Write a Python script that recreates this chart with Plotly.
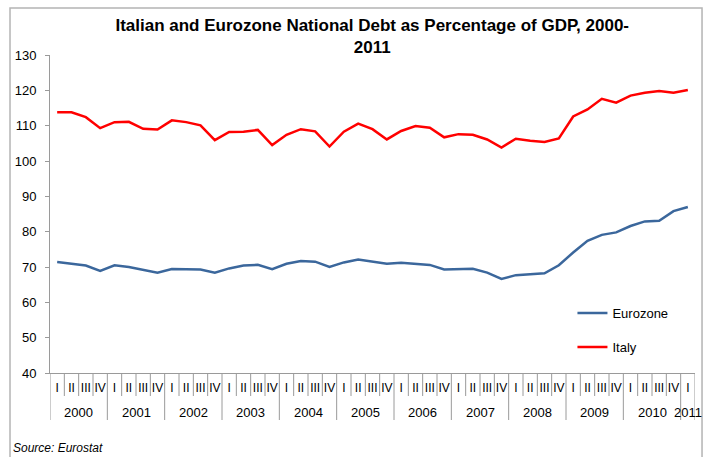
import plotly.graph_objects as go

# Quarterly government debt, % of GDP, 2000 Q1 - 2011 Q1
years = ["2000", "2001", "2002", "2003", "2004", "2005",
         "2006", "2007", "2008", "2009", "2010", "2011"]
quarters = ["I", "II", "III", "IV"]

eurozone = [71.4, 70.9, 70.4, 68.9, 70.5, 70.0, 69.2, 68.4, 69.4, 69.4, 69.3, 68.4,
            69.6, 70.4, 70.6, 69.4, 70.9, 71.7, 71.5, 70.0, 71.3, 72.1, 71.4, 70.9,
            71.2, 71.0, 70.6, 69.3, 69.5, 69.5, 68.4, 66.6, 67.7, 67.9, 68.2, 70.5,
            74.1, 77.4, 79.1, 79.8, 81.6, 82.9, 83.1, 85.8, 87.0]
italy = [113.8, 113.8, 112.4, 109.3, 111.0, 111.1, 109.1, 108.9, 111.5, 111.0, 110.1, 105.9,
         108.2, 108.3, 108.8, 104.5, 107.4, 109.0, 108.4, 104.1, 108.3, 110.6, 109.0, 106.1,
         108.5, 109.9, 109.4, 106.7, 107.6, 107.4, 106.1, 103.8, 106.3, 105.7, 105.4, 106.4,
         112.6, 114.6, 117.6, 116.5, 118.5, 119.3, 119.8, 119.3, 120.1]

y_ticks = [40, 50, 60, 70, 80, 90, 100, 110, 120, 130]

n = len(italy)
idx = list(range(n))
q_labels = [quarters[i % 4] for i in idx]

FONT = "Liberation Sans, Arial, sans-serif"
AXIS_GREY = "#9a9a9a"

fig = go.Figure()
fig.add_trace(go.Scatter(x=idx, y=eurozone, mode="lines", name="Eurozone",
                         legendgroup="ez",
                         line=dict(color="#3b679c", width=2.5)))
fig.add_trace(go.Scatter(x=idx, y=italy, mode="lines", name="Italy",
                         legendgroup="it",
                         line=dict(color="#ff0000", width=2.5)))

shapes = []
# dividers between quarters (short) and years (long)
for b in range(n + 1):
    pos = b - 0.5
    is_year = (b % 4 == 0) or b == n
    shapes.append(dict(type="line", xref="x", x0=pos, x1=pos,
                       yref="paper", ysizemode="pixel", yanchor=0,
                       y0=0, y1=-47 if is_year else -23,
                       line=dict(color=AXIS_GREY, width=1)))
# outer chart frame
shapes.append(dict(type="rect", xref="paper", yref="paper",
                   x0=-0.062, x1=1.0109, y0=-0.4, y1=1.148,
                   line=dict(color="#b4b4b4", width=1.5), layer="below"))

annotations = []
for k, yr in enumerate(years):
    first = 4 * k
    last = min(4 * k + 3, n - 1)
    annotations.append(dict(x=(first + last) / 2, xref="x", y=0, yref="paper",
                            yshift=-39, yanchor="middle", showarrow=False,
                            text=yr, font=dict(family=FONT, size=13, color="#000")))
annotations.append(dict(x=-0.06, xref="paper", y=-0.236, yref="paper",
                        xanchor="left", yanchor="middle", showarrow=False,
                        text="<i>Source: Eurostat</i>",
                        font=dict(family=FONT, size=12, color="#000")))

fig.update_layout(
    width=705, height=457,
    margin=dict(l=50, r=10, t=55, b=84),
    paper_bgcolor="white", plot_bgcolor="white",
    font=dict(family=FONT, color="#000"),
    title=dict(text="Italian and Eurozone National Debt as Percentage of GDP, 2000-<br>2011",
               x=0.528, xanchor="center", y=0.932, yanchor="middle",
               font=dict(family=FONT, size=17, color="#000", weight="bold")),
    xaxis=dict(range=[-0.5, n - 0.5], tickmode="array", tickvals=idx, ticktext=q_labels,
               tickangle=0, ticks="", showgrid=False, zeroline=False,
               showline=True, linecolor=AXIS_GREY, linewidth=1,
               tickfont=dict(family=FONT, size=12, color="#000"), ticklabelstandoff=4),
    yaxis=dict(range=[40, 130], tickvals=y_ticks, ticks="outside", ticklen=4,
               tickcolor=AXIS_GREY, showgrid=False, zeroline=False,
               showline=True, linecolor=AXIS_GREY, linewidth=1,
               tickfont=dict(family=FONT, size=13, color="#000"), ticklabelstandoff=6),
    legend=dict(x=0.81, y=0.135, xanchor="left", yanchor="middle",
                traceorder="grouped", tracegroupgap=14,
                font=dict(family=FONT, size=13, color="#000"),
                bgcolor="rgba(0,0,0,0)"),
    shapes=shapes,
    annotations=annotations,
)

fig.write_html("out.html")
